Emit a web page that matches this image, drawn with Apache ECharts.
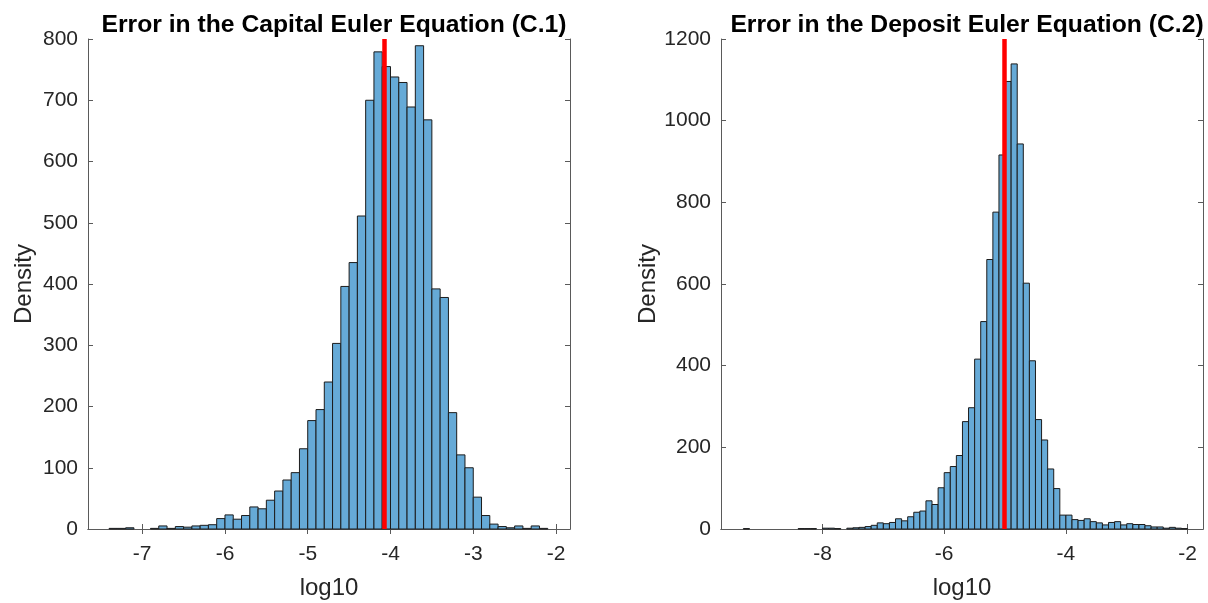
<!DOCTYPE html>
<html>
<head>
<meta charset="utf-8">
<script src="https://cdn.jsdelivr.net/npm/echarts@6/dist/echarts.min.js"></script>
<style>
  html, body { margin: 0; padding: 0; background: #ffffff; }
  #chart { width: 1208px; height: 603px; }
</style>
</head>
<body>
<div id="chart"></div>
<script>
// ---------- data ----------
const binWidth = 0.1;

// Capital Euler equation errors (log10), left bin edge of first bar
const capBinStart = -7.4;
const capCounts = [
  1, 1, 2, 0, 0, 1, 5, 1, 4, 3,
  5, 6, 7, 17, 23, 16, 22, 36, 33, 47,
  62, 80, 92, 131, 177, 195, 240, 303, 396, 435,
  511, 700, 779, 755, 738, 729, 689, 789, 668, 392,
  378, 190, 121, 100, 52, 22, 8, 4, 2, 5,
  1, 5, 1
];
const capMean = -4.07;
const capXRange = [-7.655, -1.831];
const capXTicks = [-7, -6, -5, -4, -3, -2];
const capYMax = 800;
const capYStep = 100;

// Deposit Euler equation errors (log10)
const depBinStart = -9.3;
const depCounts = [
  1, 0, 0, 0, 0, 0, 0, 0, 0, 1,
  1, 1, 0, 2, 2, 1, 0, 2, 3, 4,
  6, 9, 15, 13, 16, 25, 20, 30, 41, 44,
  69, 60, 101, 138, 153, 180, 263, 297, 416, 508,
  660, 776, 916, 1096, 1139, 943, 602, 412, 268, 218,
  147, 99, 34, 34, 23, 21, 25, 18, 15, 10,
  16, 18, 10, 13, 11, 11, 8, 5, 5, 2,
  4, 2, 1
];
const depMean = -5.02;
const depXRange = [-9.668, -1.747];
const depXTicks = [-8, -6, -4, -2];
const depYMax = 1200;
const depYStep = 200;

const titles = ['Error in the Capital Euler Equation (C.1)', 'Error in the Deposit Euler Equation (C.2)'];
const xName = 'log10';
const yName = 'Density';

// ---------- build ----------
function toBins(start, counts) {
  const out = [];
  counts.forEach((c, i) => {
    if (c > 0) {
      const x0 = Math.round((start + i * binWidth) * 1000) / 1000;
      const x1 = Math.round((x0 + binWidth) * 1000) / 1000;
      out.push([x0, x1, c]);
    }
  });
  return out;
}

const FONT = 'Liberation Sans';
const AXIS_COLOR = '#5a5a5a';
const TEXT_COLOR = '#262626';
const BAR_FILL = '#66aad7';
const BAR_EDGE = '#1c1c1c';

function renderBar(params, api) {
  const x0 = api.value(0), x1 = api.value(1), y = api.value(2);
  const pTop = api.coord([x0, y]);
  const pBot = api.coord([x1, 0]);
  return {
    type: 'rect',
    shape: { x: pTop[0], y: pTop[1], width: pBot[0] - pTop[0], height: pBot[1] - pTop[1] },
    style: { fill: BAR_FILL, stroke: BAR_EDGE, lineWidth: 1 }
  };
}

const grids = [
  { left: 88, right: 638, top: 39, bottom: 74, containLabel: false, outerBoundsMode: 'none' },
  { left: 721, right: 5, top: 39, bottom: 74, containLabel: false, outerBoundsMode: 'none' }
];

function xAxes(gi, range, ticks) {
  const base = {
    type: 'value', gridIndex: gi, min: range[0], max: range[1],
    splitLine: { show: false },
    axisLine: { show: true, lineStyle: { color: AXIS_COLOR, width: 1 } },
    axisTick: { show: true, inside: true, length: 5, customValues: ticks, lineStyle: { color: AXIS_COLOR } }
  };
  return [
    Object.assign({}, base, {
      position: 'bottom',
      name: xName, nameLocation: 'middle', nameGap: 47,
      nameTextStyle: { fontFamily: FONT, fontSize: 24, color: TEXT_COLOR },
      axisLabel: { show: true, customValues: ticks, fontFamily: FONT, fontSize: 21, color: TEXT_COLOR, margin: 15,
                   formatter: v => String(v) }
    }),
    Object.assign({}, base, { position: 'top', axisLabel: { show: false } })
  ];
}

function yAxes(gi, ymax, step, gap) {
  const base = {
    type: 'value', gridIndex: gi, min: 0, max: ymax, interval: step,
    splitLine: { show: false },
    axisLine: { show: true, lineStyle: { color: AXIS_COLOR, width: 1 } },
    axisTick: { show: true, inside: true, length: 5, lineStyle: { color: AXIS_COLOR } }
  };
  return [
    Object.assign({}, base, {
      position: 'left',
      name: yName, nameLocation: 'middle', nameGap: gap,
      nameTextStyle: { fontFamily: FONT, fontSize: 24, color: TEXT_COLOR },
      axisLabel: { show: true, fontFamily: FONT, fontSize: 21, color: TEXT_COLOR, margin: 10,
                   formatter: v => String(v) }
    }),
    Object.assign({}, base, { position: 'right', axisLabel: { show: false } })
  ];
}

const xAxisList = [].concat(xAxes(0, capXRange, capXTicks), xAxes(1, depXRange, depXTicks));
const yAxisList = [].concat(yAxes(0, capYMax, capYStep, 52), yAxes(1, depYMax, depYStep, 61));

function histSeries(xi, yi, data, mean) {
  return {
    type: 'custom', xAxisIndex: xi, yAxisIndex: yi,
    renderItem: renderBar,
    encode: { x: [0, 1], y: 2 },
    data: data,
    silent: true,
    animation: false,
    markLine: {
      silent: true, symbol: 'none', animation: false,
      label: { show: false },
      lineStyle: { color: '#ff0000', width: 4.5, type: 'solid' },
      data: [{ xAxis: mean }]
    }
  };
}

const option = {
  animation: false,
  backgroundColor: '#ffffff',
  title: [
    { text: titles[0], left: 329, top: 8, textAlign: 'center',
      textStyle: { fontFamily: FONT, fontSize: 24.7, fontWeight: 'bold', color: '#000' } },
    { text: titles[1], left: 962, top: 8, textAlign: 'center',
      textStyle: { fontFamily: FONT, fontSize: 24.7, fontWeight: 'bold', color: '#000' } }
  ],
  grid: grids,
  xAxis: xAxisList,
  yAxis: yAxisList,
  series: [
    histSeries(0, 0, toBins(capBinStart, capCounts), capMean),
    histSeries(2, 2, toBins(depBinStart, depCounts), depMean)
  ]
};

const chart = echarts.init(document.getElementById('chart'), null, { renderer: 'canvas' });
chart.setOption(option);
</script>
</body>
</html>
